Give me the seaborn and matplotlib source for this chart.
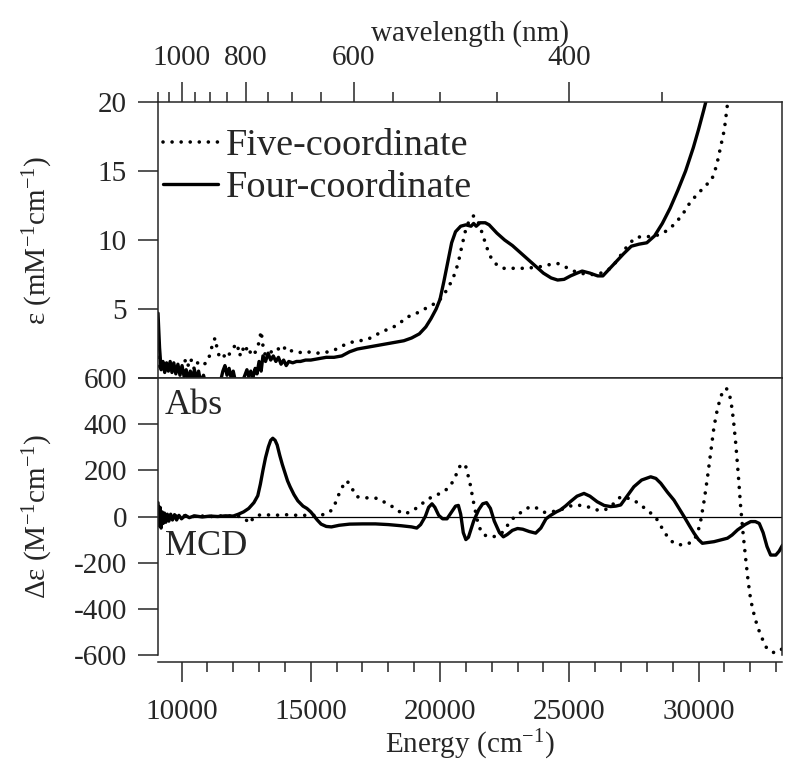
import numpy as np
import pandas as pd
import matplotlib
matplotlib.use('Agg')
import matplotlib.pyplot as plt
from matplotlib.ticker import MultipleLocator
import seaborn as sns

# ---- absorption, four-coordinate (solid), energy in cm-1, eps in mM-1 cm-1
abs4_E = [9090, 9150, 9210, 9280, 9350, 9420, 9490, 9560, 9630, 9700, 9780, 9860,
          9940, 10020, 10100, 10180, 10260, 10340, 10420, 10500, 10580, 10660, 10740,
          10850, 10950, 11100, 11300, 11500, 11600, 11680, 11760, 11840, 11920, 12000,
          12080, 12200, 12350, 12450, 12530, 12600, 12680, 12760, 12850, 12920, 13000,
          13080, 13150, 13250, 13350, 13450, 13550, 13650, 13750, 13850, 13950, 14050,
          14150, 14300, 14450, 14600, 14800, 15000, 15300, 15600, 15900, 16200, 16500,
          16800, 17100, 17400, 17700, 18000, 18300, 18600, 18900, 19200, 19450, 19650,
          19850, 20000, 20150, 20300, 20450, 20600, 20800, 21000, 21200, 21300, 21400,
          21550, 21750, 21900, 22200, 22500, 22800, 23100, 23400, 23700, 24000, 24300,
          24550, 24800, 25050, 25300, 25500, 25800, 26100, 26300, 26500, 26800, 27100,
          27400, 27700, 28000, 28300, 28600, 28900, 29200, 29500, 29800, 30000, 30200,
          30350, 30500]
abs4_eps = [4.7, 2.2, 0.6, 1.2, 0.4, 1.1, 0.5, 1.2, 0.4, 1.1, 0.3, 1.0,
            0.2, 0.9, 0.1, 0.6, -0.2, 0.5, 0.0, 0.6, -0.2, 0.5, -0.3,
            0.2, -0.5, -0.8, -0.6, -0.3, 0.5, 0.9, 0.2, 0.7, 0.0, 0.5,
            -0.2, -0.6, -0.3, 0.2, 0.6, 0.1, 0.5, 0.0, 0.7, 0.3, 1.2,
            0.5, 1.6, 1.2, 1.8, 1.3, 1.6, 1.2, 1.5, 1.0, 1.3, 0.9,
            1.2, 1.1, 1.2, 1.2, 1.3, 1.3, 1.4, 1.5, 1.5, 1.6, 1.9,
            2.1, 2.2, 2.3, 2.4, 2.5, 2.6, 2.7, 2.9, 3.2, 3.7, 4.3,
            5.0, 5.7, 7.0, 8.4, 9.8, 10.6, 11.0, 11.1, 11.0, 11.2, 11.0,
            11.25, 11.25, 11.1, 10.5, 10.0, 9.6, 9.1, 8.6, 8.1, 7.6, 7.25,
            7.1, 7.15, 7.4, 7.6, 7.75, 7.6, 7.4, 7.4, 7.8, 8.4, 9.0,
            9.55, 9.7, 9.8, 10.3, 11.2, 12.3, 13.6, 15.0, 16.7, 18.0, 19.4,
            20.5, 22.0]

# ---- absorption, five-coordinate (dotted)
abs5_E = [9090, 9150, 9230, 9320, 9420, 9520, 9620, 9720, 9820, 9920, 10050, 10180,
          10280, 10380, 10480, 10580, 10700, 10850, 10980, 11100, 11220, 11300, 11380,
          11470, 11600, 11750, 11900, 12050, 12150, 12250, 12350, 12450, 12550, 12650,
          12750, 12900, 13000, 13080, 13160, 13250, 13400, 13550, 13700, 13850, 14000,
          14150, 14300, 14500, 14700, 15000, 15300, 15700, 16000, 16300, 16600, 16900,
          17200, 17500, 17800, 18100, 18400, 18700, 19000, 19300, 19600, 19900, 20100,
          20300, 20500, 20700, 20850, 21000, 21150, 21300, 21400, 21500, 21650, 21800,
          22000, 22200, 22450, 22800, 23200, 23600, 24000, 24300, 24550, 24800, 25100,
          25400, 25800, 26100, 26400, 26600, 26850, 27100, 27350, 27600, 27900, 28200,
          28500, 28800, 29100, 29400, 29700, 30000, 30300, 30500, 30700, 30850, 31000,
          31150, 31300]
abs5_eps = [1.5, 0.8, 1.2, 0.5, 0.9, 0.4, 1.0, 0.5, 0.9, 0.4, 0.9, 1.4,
            0.8, 1.3, 0.7, 1.2, 0.9, 1.0, 1.1, 1.7, 2.6, 2.9, 2.1,
            1.5, 1.7, 1.4, 1.9, 2.3, 2.5, 1.6, 2.2, 1.8, 2.3, 1.9,
            1.6, 2.0, 2.6, 3.4, 2.2, 1.6, 1.8, 2.0, 2.2, 1.9, 2.2,
            1.9, 2.0, 1.9, 1.8, 1.9, 1.8, 1.9, 2.1, 2.4, 2.6, 2.7,
            2.8, 3.1, 3.4, 3.6, 3.9, 4.4, 4.6, 4.9, 5.2, 5.5, 5.9,
            6.5, 7.2, 8.3, 9.6, 10.8, 11.5, 11.75, 11.6, 11.2, 10.4, 9.5,
            8.6, 8.2, 7.95, 7.95, 7.95, 8.0, 8.1, 8.25, 8.3, 8.1, 7.8,
            7.6, 7.5, 7.5, 7.75, 7.95, 8.5, 9.2, 9.8, 10.2, 10.25, 10.25,
            10.4, 10.7, 11.2, 11.9, 12.8, 13.4, 14.0, 14.3, 15.4, 16.7, 18.0,
            20.3, 22.0]

# ---- MCD, four-coordinate (solid), delta eps in M-1 cm-1
mcd4_E = [9090, 9130, 9170, 9210, 9250, 9290, 9340, 9390, 9450, 9510, 9580, 9650,
          9730, 9810, 9900, 10000, 10150, 10300, 10500, 10800, 11100, 11400, 11700,
          12000, 12200, 12400, 12600, 12800, 12950, 13050, 13150, 13250, 13360, 13450,
          13530, 13620, 13700, 13800, 13900, 14000, 14100, 14200, 14350, 14500, 14700,
          14850, 15000, 15100, 15250, 15400, 15600, 15800, 16100, 16500, 17000, 17500,
          18000, 18500, 18900, 19100, 19250, 19430, 19560, 19690, 19800, 19950, 20100,
          20270, 20450, 20600, 20710, 20800, 20900, 21000, 21100, 21300, 21500, 21650,
          21800, 21950, 22100, 22300, 22450, 22600, 22800, 23000, 23200, 23450, 23700,
          23900, 24100, 24280, 24500, 24650, 24850, 25040, 25300, 25570, 25800, 26080,
          26350, 26600, 26800, 26990, 27250, 27500, 27800, 28150, 28350, 28540, 28800,
          29050, 29250, 29440, 29650, 29830, 30000, 30150, 30400, 30600, 30850, 31120,
          31300, 31510, 31800, 32020, 32200, 32350, 32500, 32650, 32790, 32990, 33120,
          33250]
mcd4_de = [60, -40, 40, -50, 20, -30, 15, -25, 10, -20, 10, -15,
           8, -15, 5, -10, 5, -5, 3, -2, 2, 0, 3,
           2, 10, 20, 35, 60, 90, 140, 200, 255, 302, 330,
           339, 330, 310, 265, 225, 190, 155, 129, 95, 68, 45,
           35, 20, 6, -15, -33, -43, -45, -38, -33, -32, -32,
           -35, -40, -45, -50, -35, 0, 40, 55, 40, 5, -10,
           -10, 20, 45, 48, 10, -70, -100, -90, -20, 30, 55,
           60, 35, -20, -70, -88, -78, -60, -52, -55, -65, -72,
           -50, -10, 5, 20, 28, 45, 64, 88, 100, 88, 64,
           48, 43, 45, 50, 90, 129, 158, 172, 165, 144, 105,
           71, 35, 0, -40, -73, -100, -116, -112, -109, -102, -94,
           -80, -58, -35, -22, -22, -30, -70, -130, -167, -167, -150,
           -124]

# ---- MCD, five-coordinate (dotted)
mcd5_E = [9090, 9130, 9170, 9220, 9270, 9330, 9400, 9480, 9560, 9650, 9750, 9900,
          10100, 10400, 10800, 11200, 11600, 12000, 12300, 12500, 12650, 12750, 12900,
          13200, 13600, 14000, 14500, 15000, 15360, 15600, 15750, 15900, 16000, 16100,
          16200, 16300, 16390, 16500, 16590, 16700, 16780, 17000, 17300, 17560, 17800,
          18070, 18300, 18590, 18800, 18980, 19250, 19500, 19800, 20140, 20400, 20600,
          20750, 20900, 21000, 21150, 21300, 21450, 21600, 21800, 22000, 22200, 22400,
          22600, 22800, 23000, 23200, 23450, 23650, 23850, 24050, 24300, 24650, 24900,
          25180, 25450, 25700, 25950, 26210, 26400, 26600, 26800, 26990, 27250, 27500,
          27750, 28020, 28250, 28410, 28670, 28850, 29050, 29250, 29440, 29650, 29830,
          29970, 30090, 30220, 30350, 30480, 30600, 30730, 30860, 30970, 31080, 31170,
          31250, 31350, 31440, 31540, 31630, 31730, 31830, 31920, 32020, 32150, 32280,
          32450, 32600, 32760, 32930, 33060, 33190, 33250]
mcd5_de = [40, -20, 25, -30, 10, -20, 10, -15, 5, -10, 5, -5,
           3, 0, 2, 0, 3, 2, 0, -15, -30, -10, 5,
           8, 5, 8, 5, 5, 5, 12, 21, 45, 71, 100,
           123, 145, 155, 140, 123, 100, 86, 82, 80, 79, 65,
           50, 30, 11, 18, 28, 50, 74, 90, 107, 132, 175,
           215, 230, 215, 150, 60, -20, -70, -85, -88, -85, -70,
           -40, -10, 5, 25, 40, 42, 30, 18, 20, 28, 40,
           50, 48, 43, 32, 25, 30, 43, 65, 86, 80, 71,
           50, 28, 5, -15, -66, -95, -116, -122, -123, -115, -102,
           -70, -15, 70, 172, 285, 389, 465, 519, 548, 555, 535,
           505, 420, 317, 180, 43, -80, -188, -280, -362, -425, -477,
           -525, -564, -582, -590, -588, -578, -570]

wl_major = [1000, 800, 600, 400]
wl_minor = [1100, 1050, 950, 900, 850, 750, 700, 650, 550, 500, 450, 350]
eps_ticks = [0, 5, 10, 15, 20]
eps_labels = ['', '5', '10', '15', '20']
de_ticks = [-600, -400, -200, 0, 200, 400, 600]
E_ticks = [10000, 15000, 20000, 25000, 30000]

abs4 = pd.DataFrame({'E': abs4_E, 'eps': abs4_eps})
abs5 = pd.DataFrame({'E': abs5_E, 'eps': abs5_eps})
mcd4 = pd.DataFrame({'E': mcd4_E, 'de': mcd4_de})
mcd5 = pd.DataFrame({'E': mcd5_E, 'de': mcd5_de})

sns.set_style('ticks')
plt.rcParams['font.family'] = ['Liberation Serif', 'DejaVu Serif']
plt.rcParams['mathtext.fontset'] = 'custom'
plt.rcParams['mathtext.rm'] = 'Liberation Serif'
plt.rcParams['mathtext.it'] = 'Liberation Serif:italic'
plt.rcParams['axes.linewidth'] = 1.1
plt.rcParams['axes.unicode_minus'] = False

fig = plt.figure(figsize=(8, 7.77), dpi=100)
ax1 = fig.add_axes([0.1975, 0.5135, 0.78, 0.3552])
ax2 = fig.add_axes([0.1975, 0.157, 0.78, 0.3565])

dot = dict(color='black', lw=2.6, linestyle=(0, (0.01, 2.5)), dash_capstyle='round')
solid = dict(color='black', lw=2.4)

sns.lineplot(data=abs5, x='E', y='eps', ax=ax1, estimator=None, sort=False,
             label='Five-coordinate', **dot)
sns.lineplot(data=abs4, x='E', y='eps', ax=ax1, estimator=None, sort=False,
             label='Four-coordinate', **solid)
sns.lineplot(data=mcd5, x='E', y='de', ax=ax2, estimator=None, sort=False,
             legend=False, **dot)
sns.lineplot(data=mcd4, x='E', y='de', ax=ax2, estimator=None, sort=False,
             legend=False, **solid)
ax2.axhline(0, color='black', lw=0.9, zorder=1)

xmin, xmax = 9090, 33230
for ax in (ax1, ax2):
    ax.set_xlim(xmin, xmax)
    ax.tick_params(direction='out', length=14.4, width=1.1, labelsize=21, pad=8)
    ax.tick_params(which='minor', direction='out', length=7.2, width=1.1)

# top panel: absorption, wavelength axis on top
ax1.set_ylim(0, 20)
ax1.set_yticks(eps_ticks)
ax1.set_yticklabels(eps_labels)
ax1.xaxis.tick_top()
ax1.xaxis.set_label_position('top')
ax1.set_xticks([1e7 / w for w in wl_major])
ax1.set_xticklabels([str(w) for w in wl_major])
ax1.set_xticks([1e7 / w for w in wl_minor], minor=True)
ax1.tick_params(axis='x', which='major', pad=8)
ax1.set_xlabel('wavelength (nm)', fontsize=21, labelpad=3)
ax1.set_ylabel('ε (mM$^{-1}$cm$^{-1}$)', fontsize=21)
ax1.yaxis.set_label_coords(-0.165, 0.5)

leg = ax1.legend(loc='upper left', bbox_to_anchor=(0.008, 0.905), frameon=False,
                 fontsize=27.5, handlelength=1.45, handletextpad=0.2,
                 labelspacing=0.2, borderpad=0, borderaxespad=0)

# bottom panel: MCD
ax2.set_ylim(-600, 600)
ax2.set_yticks(de_ticks)
ax2.set_xticks(E_ticks)
ax2.xaxis.set_minor_locator(MultipleLocator(1000))
ax2.spines['bottom'].set_position(('outward', 5))
ax2.tick_params(axis='x', which='major', pad=12)
ax2.set_xlabel('Energy (cm$^{-1}$)', fontsize=21, labelpad=2)
ax2.set_ylabel('Δε (M$^{-1}$cm$^{-1}$)', fontsize=21)
ax2.yaxis.set_label_coords(-0.165, 0.5)

ax2.text(0.011, 0.90, 'Abs', transform=ax2.transAxes, fontsize=26,
         ha='left', va='center')
ax2.text(0.011, 0.39, 'MCD', transform=ax2.transAxes, fontsize=26,
         ha='left', va='center')

fig.savefig('out.png', dpi=100)
